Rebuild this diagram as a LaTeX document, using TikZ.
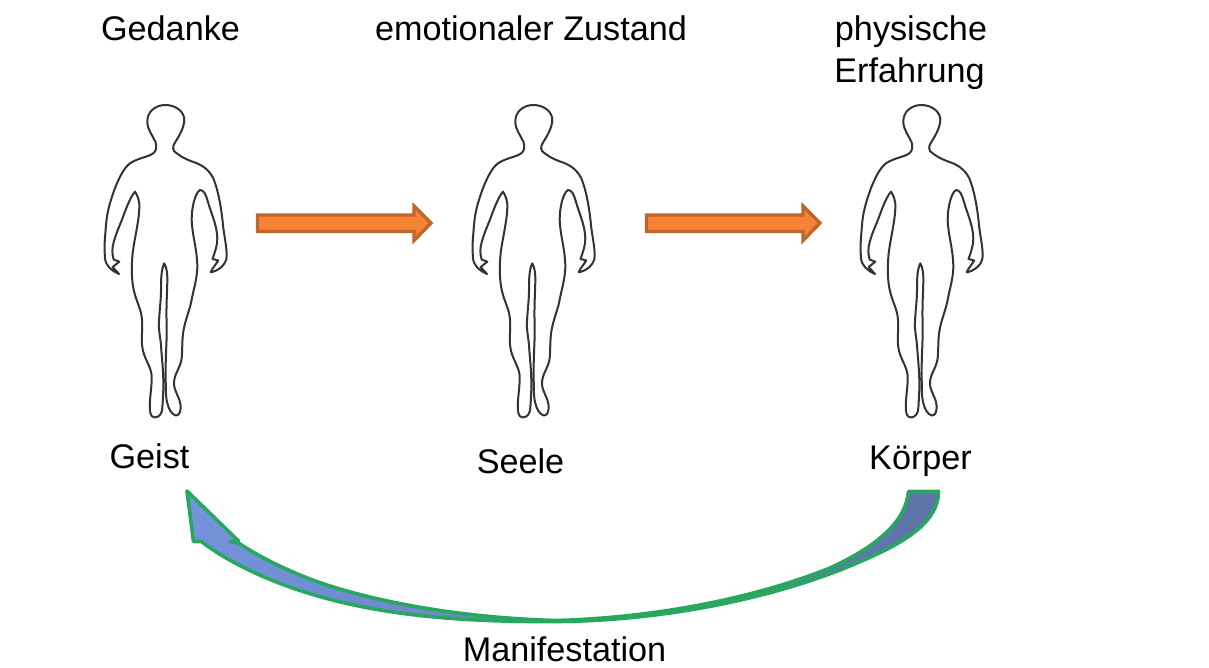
\documentclass[tikz,border=0pt]{standalone}
\usepackage{fontspec}
\setmainfont{Liberation Sans}
\definecolor{orfill}{HTML}{F58236}
\definecolor{orline}{HTML}{C0662B}
\definecolor{grline}{HTML}{27A85F}
\definecolor{blleft}{HTML}{7593DC}
\definecolor{blright}{HTML}{5C74A6}
\definecolor{bodyline}{HTML}{333333}
\tikzset{
  lab/.style={font=\fontsize{34.2}{40}\selectfont, inner sep=0pt, anchor=base, text=black},
  outline/.style={draw=bodyline, line width=2pt, line join=round, fill=white},
  blockarrow/.style={draw=orline, fill=orfill, line width=3.4pt, line join=miter},
  bigarrow/.style={draw=grline, line width=3.6pt, line join=round, left color=blleft, right color=blright}
}
\newcommand{\bodyfig}[1]{%
\begin{scope}[xshift=#1]
\draw[outline]
  (135,191.7) .. controls (138,196) and (139.8,202) .. (139.3,208)
  .. controls (139,222) and (134,240) .. (132.5,255)
  .. controls (131,272) and (132,285) .. (135,295)
  .. controls (137,302) and (141,310) .. (141.7,317)
  .. controls (143,328) and (141,338) .. (142.3,347)
  .. controls (143.5,358) and (151,366) .. (151.7,376)
  .. controls (152,388) and (149,400) .. (150,411)
  .. controls (150.5,416) and (153,418) .. (155,417.5)
  .. controls (160,417) and (162,413) .. (162.3,408)
  .. controls (163,398) and (163.5,390) .. (163.3,380)
  .. controls (163,366) and (161.5,355) .. (161,345)
  .. controls (160,335) and (158.5,330) .. (159,322)
  .. controls (159.5,310) and (161,300) .. (161,290)
  .. controls (161,280) and (161,270) .. (164.3,263.3)
  .. controls (167,268) and (167.5,275) .. (167.3,282)
  .. controls (167,295) and (166,310) .. (166.7,325)
  .. controls (167,340) and (165.5,355) .. (165.7,370)
  .. controls (165.8,385) and (165.5,395) .. (167,402)
  .. controls (168.5,409) and (172,415) .. (176,415.5)
  .. controls (180,415.5) and (181,410) .. (180.5,405)
  .. controls (179.5,396) and (174,392) .. (174,383)
  .. controls (174,374) and (180.5,368) .. (181.7,358)
  .. controls (182.5,348) and (182,340) .. (183.3,331.7)
  .. controls (185,320) and (190,310) .. (192,298)
  .. controls (194,288) and (197,278) .. (197.3,268)
  .. controls (197.5,250) and (192,235) .. (191.7,220)
  .. controls (191.5,208) and (195,193) .. (200,190)
  .. controls (204,190) and (206,195) .. (208,202)
  .. controls (211,213) and (217,225) .. (217.3,238)
  .. controls (217.5,245) and (215,252) .. (212.5,259)
  -- (218.3,260.5) -- (211.7,270) -- (210.7,272.3)
  .. controls (218,271) and (226.5,265) .. (226.7,256)
  .. controls (226.7,246) and (224,235) .. (223,225)
  .. controls (221,205) and (218,190) .. (213.3,178.3)
  .. controls (208,168) and (200,164) .. (192,161.5)
  .. controls (185,159) and (178,155) .. (174,151)
  .. controls (172,147) and (174,144) .. (176,141)
  .. controls (179,136) and (184,128) .. (184.3,120)
  .. controls (184.5,112) and (176,105) .. (165.5,105)
  .. controls (155,105) and (147,112) .. (147.3,122)
  .. controls (147.5,130) and (153,136) .. (155.5,142)
  .. controls (157,147) and (156.5,151) .. (153,153.5)
  .. controls (148,157) and (138,158) .. (130,163.3)
  .. controls (124,168) and (120,176) .. (115,188)
  .. controls (110,202) and (107,212) .. (106,225)
  .. controls (105,238) and (104,245) .. (105,258)
  .. controls (105.5,266) and (112,271) .. (119,274)
  -- (112.7,267) -- (119.3,261.7) -- (113.6,259.5)
  .. controls (112,254) and (112,248) .. (113.5,243)
  .. controls (116,233) and (120,225) .. (123,217)
  .. controls (127,206) and (131,196) .. (135,191.7)
  -- cycle;
\end{scope}}
\begin{document}
\begin{tikzpicture}[x=1pt,y=-1pt]
\useasboundingbox (0,0) rectangle (1209,667);
\bodyfig{0pt}
\bodyfig{368pt}
\bodyfig{756pt}
\node[lab] (gedanke) at (170.5,40) {Gedanke};
\node[lab] (zustand) at (531,40) {emotionaler Zustand};
\node[lab] (physische) at (911,40) {physische};
\node[lab] (erfahrung) at (909.5,82) {Erfahrung};
\node[lab] (geist) at (149.5,468) {Geist};
\node[lab] (seele) at (520.5,473) {Seele};
\node[lab] (koerper) at (920.5,469) {Körper};
\node[lab] (manifest) at (564.5,661) {Manifestation};
\draw[blockarrow] (257.5,215) -- (414,215) -- (414,206) -- (431,223) -- (414,240.5) -- (414,231.5) -- (257.5,231.5) -- cycle;
\draw[blockarrow] (646.5,215) -- (803,215) -- (803,206) -- (820,223) -- (803,240.5) -- (803,231.5) -- (646.5,231.5) -- cycle;
\draw[bigarrow] (187,491) -- (193.5,541.5) -- (201.5,541.5)
  .. controls (225,560) and (262,578) .. (300,590.5)
  .. controls (380,617) and (470,622) .. (556,621.5)
  .. controls (650,621) and (755,603) .. (840,570)
  .. controls (900,546) and (938,525) .. (938.5,491.5)
  -- (908.5,491.5)
  .. controls (906,520) and (880,545) .. (830,568)
  .. controls (750,600) and (650,618) .. (556,620.5)
  .. controls (470,618) and (385,605) .. (318,582)
  .. controls (285,570) and (258,556) .. (238.5,543)
  -- (230,541.5) -- (238.5,541) -- cycle;
\end{tikzpicture}
\end{document}
